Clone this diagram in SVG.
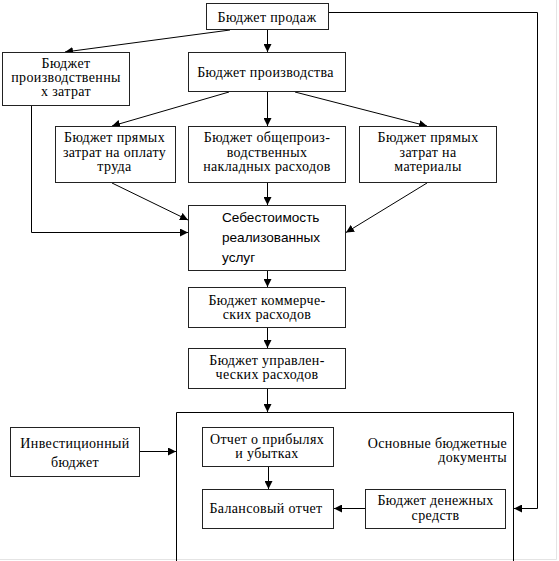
<svg xmlns="http://www.w3.org/2000/svg" width="559" height="561" viewBox="0 0 559 561">
<defs>
<marker id="ah" markerUnits="userSpaceOnUse" markerWidth="9" markerHeight="8" refX="8" refY="4" orient="auto">
<path d="M0,0 L8,4 L0,8 Z" fill="#000"/>
</marker>
<style>
.box{fill:#fff;stroke:#222;stroke-width:1}
.t{font-size:14px;letter-spacing:0.35px;fill:#000;text-anchor:middle}
.s{font-size:13.6px;fill:#000}
.c{fill:none;stroke:#000;stroke-width:1;marker-end:url(#ah)}
.ln{fill:none;stroke:#000;stroke-width:1}
</style>
</defs>
<rect width="559" height="561" fill="#fff"/>
<path d="M556.5,0 V559.5 H0" fill="none" stroke="#e4e4e4" stroke-width="1"/>

<g font-family="'Liberation Serif', 'Times New Roman', serif">
<g id="outer">
<path class="ln" d="M176.5,561 V412.5 H513.5 V561" stroke="#222"/>
<text class="t" style="text-anchor:end" x="507" y="448">Основные бюджетные</text>
<text class="t" style="text-anchor:end" x="507" y="462">документы</text>
</g>

<g id="connectors">
<path class="c" d="M230,30 L65,52"/>
<path class="c" d="M267.5,30 V52"/>
<path class="c" d="M229,92 L112,126"/>
<path class="c" d="M267.5,92 V126"/>
<path class="c" d="M295,92 L427,126"/>
<path class="c" d="M31.5,106 V232.5 H188"/>
<path class="c" d="M112,183 L188,220"/>
<path class="c" d="M267.5,183 V205"/>
<path class="c" d="M427,183 L346,232.5"/>
<path class="c" d="M267.5,271 V287"/>
<path class="c" d="M267.5,328 V348"/>
<path class="c" d="M267.5,388 V412"/>
<path class="c" d="M140,451.5 H176"/>
<path class="c" d="M268.5,467 V489"/>
<path class="c" d="M365,508.5 H334"/>
<path class="c" d="M329,12.5 H537.5 V508.5 H514"/>
</g>

<g id="n-prodazh">
<rect class="box" x="206.5" y="3.5" width="122" height="26"/>
<text class="t" x="267" y="22">Бюджет продаж</text>
</g>

<g id="n-proizv-zatrat">
<rect class="box" x="2.5" y="52.5" width="127" height="53"/>
<text class="t" x="66" y="68">Бюджет</text>
<text class="t" x="66" y="82">производственны</text>
<text class="t" x="66" y="96">х затрат</text>
</g>

<g id="n-proizvodstva">
<rect class="box" x="188.5" y="52.5" width="157" height="39"/>
<text class="t" x="265.5" y="77">Бюджет производства</text>
</g>

<g id="n-oplata">
<rect class="box" x="55.5" y="126.5" width="120" height="56"/>
<text class="t" x="114.5" y="142">Бюджет прямых</text>
<text class="t" x="114.5" y="156.5">затрат на оплату</text>
<text class="t" x="114.5" y="170.5">труда</text>
</g>

<g id="n-obshche">
<rect class="box" x="188.5" y="126.5" width="157" height="56"/>
<text class="t" x="267" y="142">Бюджет общепроиз-</text>
<text class="t" x="267" y="156.5">водственных</text>
<text class="t" x="267" y="170.5">накладных расходов</text>
</g>

<g id="n-materialy">
<rect class="box" x="359.5" y="126.5" width="137" height="56"/>
<text class="t" x="428" y="142">Бюджет прямых</text>
<text class="t" x="428" y="156.5">затрат на</text>
<text class="t" x="428" y="170.5">материалы</text>
</g>

<g id="n-sebestoimost" font-family="'Liberation Sans', Arial, sans-serif">
<rect class="box" x="188.5" y="205.5" width="157" height="65"/>
<text class="s" x="222" y="222">Себестоимость</text>
<text class="s" x="222" y="242">реализованных</text>
<text class="s" x="222" y="262">услуг</text>
</g>

<g id="n-kommerch">
<rect class="box" x="188.5" y="287.5" width="157" height="40"/>
<text class="t" x="267" y="305">Бюджет коммерче-</text>
<text class="t" x="267" y="319">ских расходов</text>
</g>

<g id="n-upravl">
<rect class="box" x="188.5" y="348.5" width="157" height="40"/>
<text class="t" x="267" y="365">Бюджет управлен-</text>
<text class="t" x="267" y="379">ческих расходов</text>
</g>

<g id="n-invest">
<rect class="box" x="10.5" y="427.5" width="129" height="49"/>
<text class="t" x="75" y="447.5">Инвестиционный</text>
<text class="t" x="75" y="466.5">бюджет</text>
</g>

<g id="n-otchet">
<rect class="box" x="202.5" y="427.5" width="131" height="39"/>
<text class="t" x="267" y="444">Отчет о прибылях</text>
<text class="t" x="267" y="458">и убытках</text>
</g>

<g id="n-balans">
<rect class="box" x="202.5" y="489.5" width="131" height="39"/>
<text class="t" x="266" y="513">Балансовый отчет</text>
</g>

<g id="n-denezhn">
<rect class="box" x="365.5" y="489.5" width="140" height="39"/>
<text class="t" x="435.5" y="505">Бюджет денежных</text>
<text class="t" x="435.5" y="520">средств</text>
</g>
</g>
</svg>
